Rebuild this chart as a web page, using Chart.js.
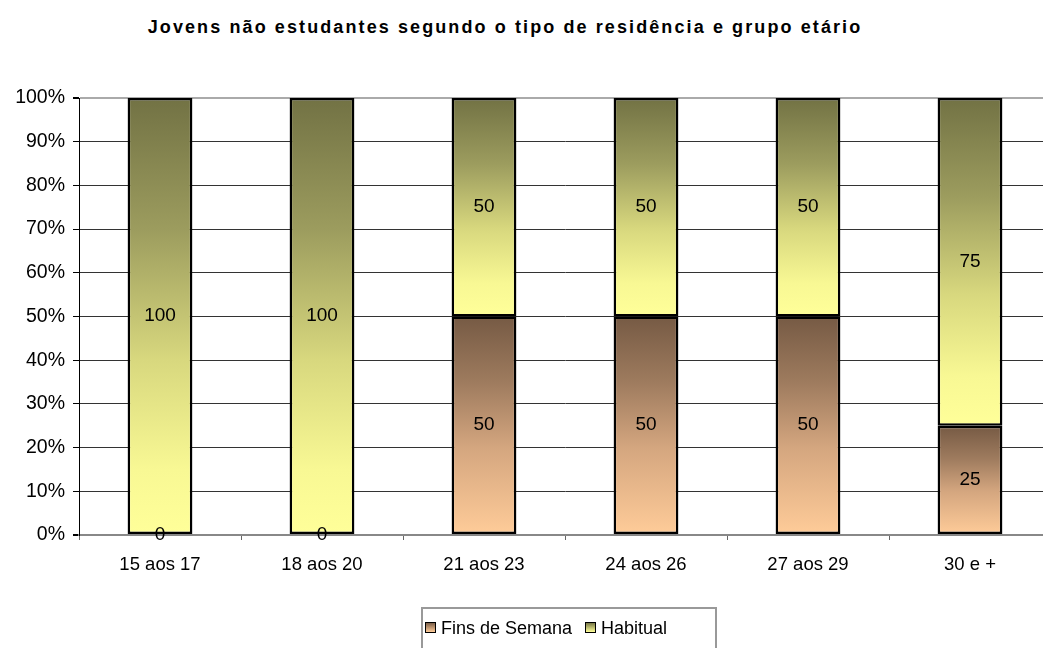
<!DOCTYPE html>
<html>
<head>
<meta charset="utf-8">
<script src="https://cdn.jsdelivr.net/npm/chart.js@4.4.0/dist/chart.umd.min.js"></script>
<style>
  html, body { margin: 0; padding: 0; background: #fff; overflow: hidden; }
  body { width: 1043px; height: 648px; position: relative; font-family: "Liberation Sans", Arial, sans-serif; }
  #wrap { position: absolute; left: 0; top: 0; width: 1060px; height: 648px; }
  #title { position: absolute; left: 0; top: 17px; width: 1010px; text-align: center;
           font-weight: bold; font-size: 18px; color: #000; letter-spacing: 2.1px; }
  #legend { position: absolute; left: 421px; top: 607px; width: 296px; height: 60px;
            border: 2px solid #999; box-sizing: border-box; font-size: 18px; color: #000; }
  #legend .item { position: absolute; top: 9px; white-space: nowrap; }
  #legend .sw { display: inline-block; width: 9px; height: 9px; border: 1px solid #000;
                margin-right: 5px; vertical-align: 1px; }
</style>
</head>
<body>
<div id="title">Jovens não estudantes segundo o tipo de residência e grupo etário</div>
<div id="wrap"><canvas id="chart"></canvas></div>
<div id="legend">
  <span class="item" style="left:2px"><span class="sw" style="background:linear-gradient(#7a5e48,#ffcc99)"></span>Fins de Semana</span>
  <span class="item" style="left:162px"><span class="sw" style="background:linear-gradient(#767646,#ffff99)"></span>Habitual</span>
</div>
<script>
var categories = ['15 aos 17', '18 aos 20', '21 aos 23', '24 aos 26', '27 aos 29', '30 e +'];
var finsDeSemana = [0, 0, 50, 50, 50, 25];
var habitual = [100, 100, 50, 50, 50, 75];

var finsStops = [[0, '#765a44'], [0.3, '#9e7b5e'], [0.6, '#d4a67f'], [1, '#ffcc99']];
var habitStops = [[0, '#727244'], [0.3, '#9c9c5e'], [0.6, '#d8d87e'], [0.85, '#f8f894'], [1, '#ffff99']];

function segmentGradient(ctx, stops) {
    var chart = ctx.chart;
    var y = chart.scales.y;
    if (!y || !chart.chartArea) return stops[stops.length - 1][1];
    var i = ctx.dataIndex;
    var start = ctx.datasetIndex === 0 ? 0 : finsDeSemana[i];
    var value = ctx.datasetIndex === 0 ? finsDeSemana[i] : habitual[i];
    var top = y.getPixelForValue(start + value);
    var bottom = y.getPixelForValue(start);
    if (bottom - top < 1) return stops[stops.length - 1][1];
    var g = chart.ctx.createLinearGradient(0, top, 0, bottom);
    stops.forEach(function(s) { g.addColorStop(s[0], s[1]); });
    return g;
}

// value labels in the middle of each segment
var valueLabels = {
    id: 'valueLabels',
    afterDatasetsDraw: function(chart) {
        var ctx = chart.ctx;
        ctx.save();
        ctx.font = '19px "Liberation Sans", Arial, sans-serif';
        ctx.fillStyle = '#000';
        ctx.textAlign = 'center';
        ctx.textBaseline = 'middle';
        chart.data.datasets.forEach(function(ds, di) {
            chart.getDatasetMeta(di).data.forEach(function(el, i) {
                if (ds.data[i] === 0 && di === 1) return;
                ctx.fillText(String(ds.data[i]), el.x, (el.y + el.base) / 2);
            });
        });
        ctx.restore();
    }
};

new Chart(document.getElementById('chart'), {
    type: 'bar',
    data: {
        labels: categories,
        datasets: [{
            label: 'Fins de Semana',
            data: finsDeSemana,
            backgroundColor: function(ctx) { return segmentGradient(ctx, finsStops); },
            borderColor: '#000',
            borderWidth: 2.5,
            borderSkipped: false,
            barPercentage: 0.4,
            categoryPercentage: 1
        }, {
            label: 'Habitual',
            data: habitual,
            backgroundColor: function(ctx) { return segmentGradient(ctx, habitStops); },
            borderColor: '#000',
            borderWidth: 2.5,
            borderSkipped: false,
            barPercentage: 0.4,
            categoryPercentage: 1
        }]
    },
    options: {
        responsive: true,
        maintainAspectRatio: false,
        animation: false,
        layout: { padding: { top: 98, right: 9, left: 0, bottom: 0 } },
        plugins: {
            legend: { display: false },
            title: { display: false },
            tooltip: { enabled: false }
        },
        scales: {
            x: {
                stacked: true,
                afterFit: function(scale) { scale.height = 113; },
                grid: { offset: true, drawOnChartArea: false, drawTicks: true, tickLength: 5, color: '#666' },
                border: { display: true, color: '#888', width: 2 },
                ticks: { color: '#000', padding: 14, font: { family: '"Liberation Sans", Arial, sans-serif', size: 18.5 } }
            },
            y: {
                stacked: true,
                min: 0,
                max: 100,
                afterFit: function(scale) { scale.width = 79; },
                grid: {
                    color: function(c) { return c.tick.value === 100 ? '#aaa' : (c.tick.value === 0 ? '#888' : '#333'); },
                    lineWidth: function(c) { return (c.tick.value === 100 || c.tick.value === 0) ? 2 : 1; },
                    tickLength: 6,
                    tickColor: '#000'
                },
                border: { display: true, color: '#000', width: 1 },
                ticks: {
                    stepSize: 10,
                    padding: 8,
                    color: '#000',
                    font: { family: '"Liberation Sans", Arial, sans-serif', size: 19.5 },
                    callback: function(v) { return v + '%'; }
                }
            }
        }
    },
    plugins: [valueLabels]
});
</script>
</body>
</html>
